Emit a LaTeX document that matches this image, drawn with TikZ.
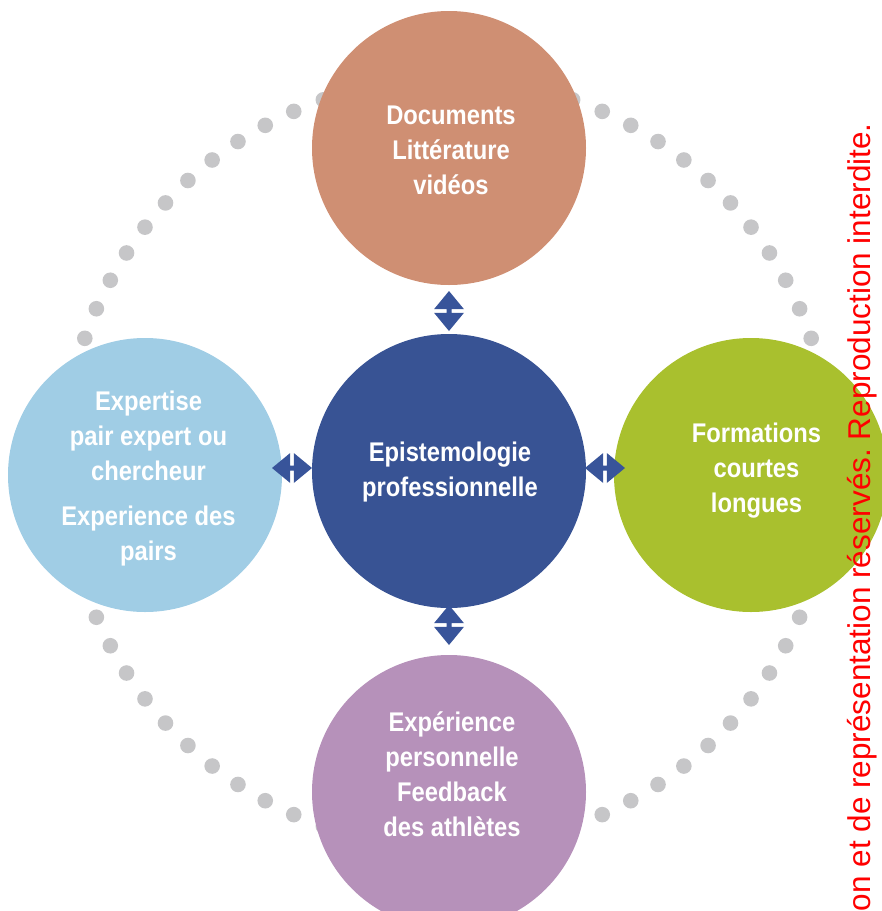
\documentclass[tikz,border=0pt]{standalone}
\usepackage{fontspec}
\setmainfont{Liberation Sans}
\newfontfamily\condfont{Liberation Sans}[FakeStretch=0.88]
\usetikzlibrary{calc}
\frenchspacing
\definecolor{cdoc}{RGB}{207,143,115}
\definecolor{cepi}{RGB}{56,83,148}
\definecolor{cexp}{RGB}{160,205,229}
\definecolor{cform}{RGB}{169,192,46}
\definecolor{cperso}{RGB}{182,145,186}
\definecolor{cdot}{RGB}{198,198,200}
\definecolor{carrow}{RGB}{56,84,154}
\tikzset{
  bubble/.style={circle, minimum size=274pt, inner sep=0pt, draw=none},
  labeltxt/.style={text=white, align=center, inner sep=0pt, font=\condfont\bfseries\fontsize{27}{35}\selectfont},
  dblarrow/.pic={
    \fill[carrow] (0,-20)--(15,-1.8)--(-15,-1.8)--cycle
                  (0,20)--(15,1.8)--(-15,1.8)--cycle
                  (-2.5,-2.2) rectangle (2.5,2.2);
  }
}
\begin{document}
\begin{tikzpicture}[x=1pt,y=-1pt]
\useasboundingbox (0,0) rectangle (882,911);
% dotted ring
\foreach \i in {0,...,75} {
  \pgfmathsetmacro{\ang}{\i*4.7368421}
  \fill[cdot] ({448+384*cos(\ang)},{463-384*sin(\ang)}) circle[radius=7.8pt];
}
% bubbles
\node[bubble, fill=cdoc]   (doc)   at (449,148) {};
\node[bubble, fill=cexp]   (exp)   at (145,475) {};
\node[bubble, fill=cform]  (form)  at (751,475) {};
\node[bubble, fill=cperso] (perso) at (449,792) {};
\node[bubble, fill=cepi]   (epi)   at (449,471) {};
% double arrows
\coordinate (atop) at (449,311);
\coordinate (abot) at (449,625);
\coordinate (aleft) at (292,468);
\coordinate (aright) at (605,468);
\pic at (atop) {dblarrow};
\pic at (abot) {dblarrow};
\pic[rotate=90] at (aleft) {dblarrow};
\pic[rotate=90] at (aright) {dblarrow};
% texts
\node[labeltxt] (tdoc) at (451,150) {Documents\\Littérature\\vidéos};
\node[labeltxt] (tepi) at (450,471.7) {Epistemologie\\professionnelle};
\node[labeltxt] (texp) at (148.5,478.2) {Expertise\\pair expert ou\\chercheur\\[10pt]Experience des\\pairs};
\node[labeltxt] (tform) at (756.5,470.5) {Formations\\courtes\\longues};
\node[labeltxt] (tperso) at (452,774.1) {Expérience\\personnelle\\Feedback\\des athlètes};
% copyright
\node[rotate=90, anchor=base east, inner sep=0pt, text=red, font=\fontsize{31.5}{31.5}\selectfont] (copy) at (870,123) {on et de représentation réservés. Reproduction interdite.};
\end{tikzpicture}
\end{document}
